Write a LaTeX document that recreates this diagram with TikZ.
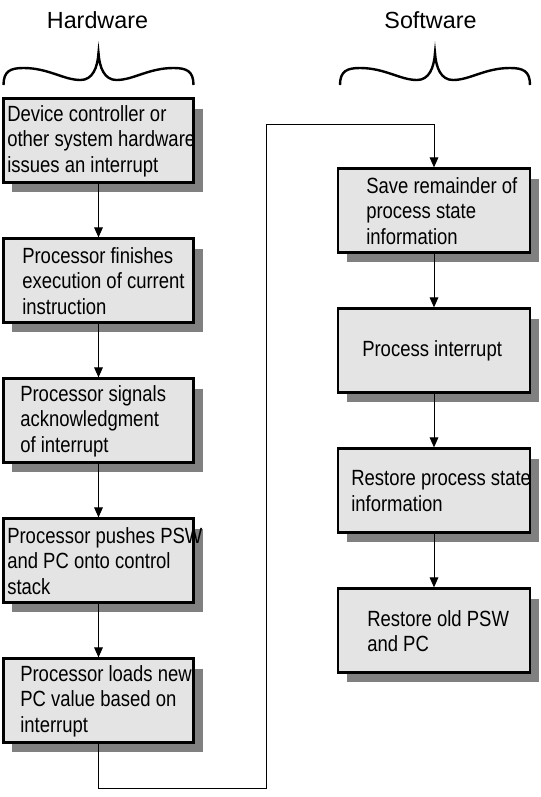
\documentclass[tikz,border=0pt]{standalone}
\usepackage{fontspec}
\setmainfont{Liberation Sans}
\newfontfamily\boxfont[FakeStretch=0.84]{Liberation Sans}
\usetikzlibrary{arrows.meta,shadows}

\definecolor{boxgray}{RGB}{228,228,228}
\definecolor{shadegray}{RGB}{128,128,128}

\tikzset{
  curly/.pic={
    \draw[line width=1.8pt] (-95,32) .. controls (-95,18) and (-88,15) .. (-75,15)
      .. controls (-50,15) and (-35,27) .. (-18,27)
      .. controls (-6,27) and (-1,15) .. (0,0)
      .. controls (1,15) and (6,27) .. (18,27)
      .. controls (35,27) and (50,15) .. (75,15)
      .. controls (88,15) and (95,18) .. (95,32);
  }
}

\begin{document}
\begin{tikzpicture}[x=0.75pt,y=-0.75pt]
    \tikzstyle{stepbox}=[draw,line width=2.2pt,fill=boxgray,minimum height=62.5pt,minimum width=143pt,
      drop shadow={shadow xshift=6.75pt,shadow yshift=-7.5pt,fill=shadegray,opacity=1}]
    \tikzstyle{steptext}=[anchor=west,align=left,inner sep=0pt,
      font=\boxfont\fontsize{16.5pt}{19.2pt}\selectfont]
    \tikzstyle{title}=[font=\fontsize{17.5pt}{21pt}\selectfont,inner sep=0pt]
    \tikzstyle{flow}=[line width=0.75pt,-{Triangle[width=6.5pt,length=7.5pt]}]

    \useasboundingbox (0,0) rectangle (541,797);

    % column headings
    \node[title,anchor=base] (hwtitle) at (97.5,28) {Hardware};
    \node[title,anchor=base] (swtitle) at (430.5,28) {Software};
    \pic at (98.5,53) {curly};
    \pic at (435,53) {curly};

    % hardware steps
    \node[stepbox] (hw1) at (98.5,140.5) {};
    \node[stepbox] (hw2) at (98.5,280.5) {};
    \node[stepbox] (hw3) at (98.5,420.5) {};
    \node[stepbox] (hw4) at (98.5,560.5) {};
    \node[stepbox] (hw5) at (98.5,700.5) {};
    \node[steptext] (hw1t) at (7,141) {Device controller or\\other system hardware\\issues an interrupt};
    \node[steptext] (hw2t) at (22,281) {Processor finishes\\execution of current\\instruction};
    \node[steptext] (hw3t) at (20,421) {Processor signals\\acknowledgment\\of interrupt};
    \node[steptext] (hw4t) at (7,561) {Processor pushes PSW\\and PC onto control\\stack};
    \node[steptext] (hw5t) at (20,701) {Processor loads new\\PC value based on\\interrupt};

    % software steps
    \node[stepbox,minimum width=144pt] (sw1) at (434,210.5) {};
    \node[stepbox,minimum width=144pt] (sw2) at (434,350.5) {};
    \node[stepbox,minimum width=144pt] (sw3) at (434,490.5) {};
    \node[stepbox,minimum width=144pt] (sw4) at (434,630.5) {};
    \node[steptext] (sw1t) at (366,211) {Save remainder of\\process state\\information};
    \node[steptext] (sw2t) at (362,351) {Process interrupt};
    \node[steptext] (sw3t) at (351,491) {Restore process state\\information};
    \node[steptext] (sw4t) at (367,631) {Restore old PSW\\and PC};

    % arrows
    \foreach \a/\b in {hw1/hw2,hw2/hw3,hw3/hw4,hw4/hw5,sw1/sw2,sw2/sw3,sw3/sw4}
      \draw[flow] (\a) -- (\b);

    % hand over from hardware to software
    \coordinate (loopbot) at (266,788);
    \coordinate (looptop) at (266,124);
    \draw[flow] (hw5.south) |- (loopbot) -- (looptop) -| (sw1.north);
\end{tikzpicture}
\end{document}
